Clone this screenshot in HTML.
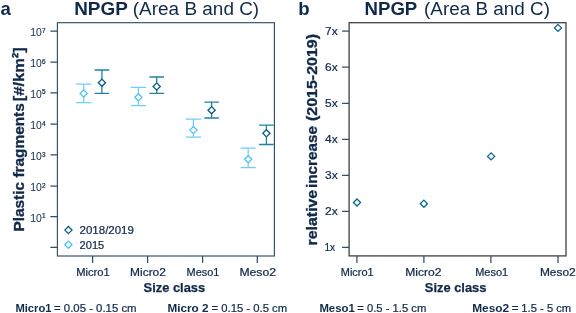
<!DOCTYPE html>
<html lang="en">
<head>
<meta charset="utf-8">
<title>NPGP (Area B and C)</title>
<style>
html,body{margin:0;padding:0;background:#fff;}
body{width:576px;height:313px;overflow:hidden;}
svg{display:block;will-change:transform;font-family:'Liberation Sans', Arial, sans-serif;fill:#10294a;}
.t{stroke:#10294a;stroke-width:0.22px;}
.b{stroke:#10294a;stroke-width:0.25px;}
.b2{stroke:#10294a;stroke-width:0.32px;}
</style>
</head>
<body>
<svg width="576" height="313" viewBox="0 0 576 313">
<rect width="576" height="313" fill="#fff"/>
<rect x="57.4" y="22.7" width="217.00" height="233.30" fill="none" stroke="#304e6a" stroke-width="1.15"/>
<path d="M50.40 31.1H57.4M50.40 62.1H57.4M50.40 92.8H57.4M50.40 124.0H57.4M50.40 154.9H57.4M50.40 186.0H57.4M50.40 216.7H57.4M50.40 247.4H57.4" stroke="#2f4e6a" stroke-width="1.25" fill="none"/>
<path d="M92.6 256.0V263.00M147.6 256.0V263.00M202.6 256.0V263.00M257.3 256.0V263.00" stroke="#2f4e6a" stroke-width="1.25" fill="none"/>
<text x="30.2" y="36.30" font-size="10.2" textLength="11.6" lengthAdjust="spacingAndGlyphs">10</text>
<text x="41.9" y="32.70" font-size="6.4" class="t">7</text>
<text x="30.2" y="67.30" font-size="10.2" textLength="11.6" lengthAdjust="spacingAndGlyphs">10</text>
<text x="41.9" y="63.70" font-size="6.4" class="t">6</text>
<text x="30.2" y="98.00" font-size="10.2" textLength="11.6" lengthAdjust="spacingAndGlyphs">10</text>
<text x="41.9" y="94.40" font-size="6.4" class="t">5</text>
<text x="30.2" y="129.20" font-size="10.2" textLength="11.6" lengthAdjust="spacingAndGlyphs">10</text>
<text x="41.9" y="125.60" font-size="6.4" class="t">4</text>
<text x="30.2" y="160.10" font-size="10.2" textLength="11.6" lengthAdjust="spacingAndGlyphs">10</text>
<text x="41.9" y="156.50" font-size="6.4" class="t">3</text>
<text x="30.2" y="191.20" font-size="10.2" textLength="11.6" lengthAdjust="spacingAndGlyphs">10</text>
<text x="41.9" y="187.60" font-size="6.4" class="t">2</text>
<text x="30.2" y="221.90" font-size="10.2" textLength="11.6" lengthAdjust="spacingAndGlyphs">10</text>
<text x="41.9" y="218.30" font-size="6.4" class="t">1</text>
<text x="93.0" y="276.1" font-size="10.5" font-weight="normal" text-anchor="middle" textLength="33.6" lengthAdjust="spacingAndGlyphs" class="t">Micro1</text>
<text x="148.0" y="276.1" font-size="10.5" font-weight="normal" text-anchor="middle" textLength="35.8" lengthAdjust="spacingAndGlyphs" class="t">Micro2</text>
<text x="203.0" y="276.1" font-size="10.5" font-weight="normal" text-anchor="middle" textLength="32.8" lengthAdjust="spacingAndGlyphs" class="t">Meso1</text>
<text x="257.7" y="276.1" font-size="10.5" font-weight="normal" text-anchor="middle" textLength="36.6" lengthAdjust="spacingAndGlyphs" class="t">Meso2</text>
<clipPath id="cl"><rect x="57.4" y="22.7" width="217.00" height="233.30"/></clipPath><g clip-path="url(#cl)">
<path d="M76.10 84.00H91.30M76.10 102.70H91.30M83.70 84.00V102.70" fill="none" stroke="#6ccffa" stroke-width="1.25"/>
<path d="M80.10 93.50L83.70 89.90L87.30 93.50L83.70 97.10Z" fill="#fff" stroke="#4cc2fa" stroke-width="1.3" stroke-linejoin="miter"/>
<path d="M130.80 87.40H146.00M130.80 105.60H146.00M138.40 87.40V105.60" fill="none" stroke="#6ccffa" stroke-width="1.25"/>
<path d="M134.80 97.30L138.40 93.70L142.00 97.30L138.40 100.90Z" fill="#fff" stroke="#4cc2fa" stroke-width="1.3" stroke-linejoin="miter"/>
<path d="M185.80 119.00H201.00M185.80 137.10H201.00M193.40 119.00V137.10" fill="none" stroke="#6ccffa" stroke-width="1.25"/>
<path d="M189.80 130.10L193.40 126.50L197.00 130.10L193.40 133.70Z" fill="#fff" stroke="#4cc2fa" stroke-width="1.3" stroke-linejoin="miter"/>
<path d="M240.60 148.00H255.80M240.60 167.60H255.80M248.20 148.00V167.60" fill="none" stroke="#6ccffa" stroke-width="1.25"/>
<path d="M244.60 159.30L248.20 155.70L251.80 159.30L248.20 162.90Z" fill="#fff" stroke="#4cc2fa" stroke-width="1.3" stroke-linejoin="miter"/>
<path d="M94.60 70.00H109.20M94.60 93.40H109.20M101.90 70.00V93.40" fill="none" stroke="#1f83a4" stroke-width="1.3"/>
<path d="M98.30 82.70L101.90 79.10L105.50 82.70L101.90 86.30Z" fill="#fff" stroke="#0a5c80" stroke-width="1.3" stroke-linejoin="miter"/>
<path d="M149.40 77.00H164.00M149.40 93.30H164.00M156.70 77.00V93.30" fill="none" stroke="#1f83a4" stroke-width="1.3"/>
<path d="M153.10 86.50L156.70 82.90L160.30 86.50L156.70 90.10Z" fill="#fff" stroke="#0a5c80" stroke-width="1.3" stroke-linejoin="miter"/>
<path d="M204.30 102.10H218.90M204.30 118.00H218.90M211.60 102.10V118.00" fill="none" stroke="#1f83a4" stroke-width="1.3"/>
<path d="M208.00 110.20L211.60 106.60L215.20 110.20L211.60 113.80Z" fill="#fff" stroke="#0a5c80" stroke-width="1.3" stroke-linejoin="miter"/>
<path d="M259.10 125.10H273.70M259.10 144.50H273.70M266.40 125.10V144.50" fill="none" stroke="#1f83a4" stroke-width="1.3"/>
<path d="M262.80 133.30L266.40 129.70L270.00 133.30L266.40 136.90Z" fill="#fff" stroke="#0a5c80" stroke-width="1.3" stroke-linejoin="miter"/>
</g>
<path d="M64.80 230.10L68.40 226.50L72.00 230.10L68.40 233.70Z" fill="#fff" stroke="#0a5c80" stroke-width="1.3" stroke-linejoin="miter"/>
<path d="M64.80 244.70L68.40 241.10L72.00 244.70L68.40 248.30Z" fill="#fff" stroke="#4cc2fa" stroke-width="1.3" stroke-linejoin="miter"/>
<text x="79.6" y="233.9" font-size="10.8" font-weight="normal" text-anchor="start" textLength="54.3" lengthAdjust="spacingAndGlyphs" class="t">2018/2019</text>
<text x="79.6" y="248.8" font-size="10.8" font-weight="normal" text-anchor="start" textLength="24.6" lengthAdjust="spacingAndGlyphs" class="t">2015</text>
<text x="74.2" y="14.7" font-size="18" font-weight="bold" text-anchor="start" textLength="53.6" lengthAdjust="spacingAndGlyphs">NPGP</text>
<text x="132.8" y="14.7" font-size="18" font-weight="normal" text-anchor="start" textLength="126.4" lengthAdjust="spacingAndGlyphs">(Area B and C)</text>
<text x="364.5" y="14.7" font-size="18" font-weight="bold" text-anchor="start" textLength="52.8" lengthAdjust="spacingAndGlyphs">NPGP</text>
<text x="424.0" y="14.7" font-size="18" font-weight="normal" text-anchor="start" textLength="126.0" lengthAdjust="spacingAndGlyphs">(Area B and C)</text>
<text x="0.5" y="15.0" font-size="18.6" font-weight="bold" text-anchor="start">a</text>
<text x="298.2" y="15.0" font-size="18.6" font-weight="bold" text-anchor="start">b</text>
<text x="143.6" y="292.2" font-size="12.1" font-weight="bold" text-anchor="start" textLength="61.6" lengthAdjust="spacingAndGlyphs" class="b">Size class</text>
<text x="424.8" y="292.1" font-size="12.1" font-weight="bold" text-anchor="start" textLength="61.6" lengthAdjust="spacingAndGlyphs" class="b">Size class</text>
<text transform="translate(23.7 231.6) rotate(-90)" font-size="15.2" font-weight="bold" class="b2" textLength="49.6" lengthAdjust="spacingAndGlyphs">Plastic</text>
<text transform="translate(23.7 177.6) rotate(-90)" font-size="15.2" font-weight="bold" class="b2" textLength="74.4" lengthAdjust="spacingAndGlyphs">fragments</text>
<text transform="translate(23.7 101.2) rotate(-90)" font-size="15.2" font-weight="bold" class="b2" textLength="54.0" lengthAdjust="spacingAndGlyphs">[#/km²]</text>
<text transform="translate(317.4 245.4) rotate(-90)" font-size="15.4" font-weight="bold" class="b2" textLength="55.6" lengthAdjust="spacingAndGlyphs">relative</text>
<text transform="translate(317.4 188.0) rotate(-90)" font-size="15.4" font-weight="bold" class="b2" textLength="62.0" lengthAdjust="spacingAndGlyphs">increase</text>
<text transform="translate(317.4 121.0) rotate(-90)" font-size="15.4" font-weight="bold" class="b2" textLength="87.0" lengthAdjust="spacingAndGlyphs">(2015-2019)</text>
<rect x="349.1" y="22.7" width="216.90" height="233.20" fill="none" stroke="#47484a" stroke-width="1.35"/>
<path d="M342.10 31.1H349.1M342.10 67.1H349.1M342.10 103.3H349.1M342.10 139.3H349.1M342.10 175.3H349.1M342.10 211.4H349.1M342.10 247.4H349.1" stroke="#2f4e6a" stroke-width="1.25" fill="none"/>
<path d="M356.9 255.9V262.90M423.9 255.9V262.90M490.9 255.9V262.90M558.0 255.9V262.90" stroke="#2f4e6a" stroke-width="1.25" fill="none"/>
<text x="325.0" y="34.9" font-size="11.8" font-weight="normal" text-anchor="start" textLength="12.6" lengthAdjust="spacingAndGlyphs" class="t">7x</text>
<text x="325.0" y="70.89999999999999" font-size="11.8" font-weight="normal" text-anchor="start" textLength="12.6" lengthAdjust="spacingAndGlyphs" class="t">6x</text>
<text x="325.0" y="107.1" font-size="11.8" font-weight="normal" text-anchor="start" textLength="12.6" lengthAdjust="spacingAndGlyphs" class="t">5x</text>
<text x="325.0" y="143.10000000000002" font-size="11.8" font-weight="normal" text-anchor="start" textLength="12.6" lengthAdjust="spacingAndGlyphs" class="t">4x</text>
<text x="325.0" y="179.10000000000002" font-size="11.8" font-weight="normal" text-anchor="start" textLength="12.6" lengthAdjust="spacingAndGlyphs" class="t">3x</text>
<text x="325.0" y="215.20000000000002" font-size="11.8" font-weight="normal" text-anchor="start" textLength="12.6" lengthAdjust="spacingAndGlyphs" class="t">2x</text>
<text x="324.4" y="251.20000000000002" font-size="11.8" font-weight="normal" text-anchor="start" textLength="10.6" lengthAdjust="spacingAndGlyphs" class="t">1x</text>
<text x="357.2" y="275.9" font-size="10.5" font-weight="normal" text-anchor="middle" textLength="32.8" lengthAdjust="spacingAndGlyphs" class="t">Micro1</text>
<text x="423.4" y="275.9" font-size="10.5" font-weight="normal" text-anchor="middle" textLength="36.2" lengthAdjust="spacingAndGlyphs" class="t">Micro2</text>
<text x="491.7" y="275.9" font-size="10.5" font-weight="normal" text-anchor="middle" textLength="33.0" lengthAdjust="spacingAndGlyphs" class="t">Meso1</text>
<text x="557.8" y="275.9" font-size="10.5" font-weight="normal" text-anchor="middle" textLength="35.8" lengthAdjust="spacingAndGlyphs" class="t">Meso2</text>
<path d="M353.45 202.50L357.00 198.95L360.55 202.50L357.00 206.05Z" fill="#fff" stroke="#0b6890" stroke-width="1.3" stroke-linejoin="miter"/>
<path d="M420.35 203.70L423.90 200.15L427.45 203.70L423.90 207.25Z" fill="#fff" stroke="#0b6890" stroke-width="1.3" stroke-linejoin="miter"/>
<path d="M487.55 156.40L491.10 152.85L494.65 156.40L491.10 159.95Z" fill="#fff" stroke="#0b6890" stroke-width="1.3" stroke-linejoin="miter"/>
<path d="M554.45 27.90L558.00 24.35L561.55 27.90L558.00 31.45Z" fill="#fff" stroke="#0b6890" stroke-width="1.3" stroke-linejoin="miter"/>
<text x="15.4" y="311.5" font-size="10.8" font-weight="bold" text-anchor="start" textLength="36.2" lengthAdjust="spacingAndGlyphs">Micro1</text>
<text x="54.0" y="311.5" font-size="10.8" font-weight="normal" text-anchor="start" textLength="82.6" lengthAdjust="spacingAndGlyphs" class="t">= 0.05 - 0.15 cm</text>
<text x="167.5" y="311.5" font-size="10.8" font-weight="bold" text-anchor="start" textLength="41.0" lengthAdjust="spacingAndGlyphs">Micro 2</text>
<text x="211.5" y="311.5" font-size="10.8" font-weight="normal" text-anchor="start" textLength="75.7" lengthAdjust="spacingAndGlyphs" class="t">= 0.15 - 0.5 cm</text>
<text x="319.4" y="311.5" font-size="10.8" font-weight="bold" text-anchor="start" textLength="35.4" lengthAdjust="spacingAndGlyphs">Meso1</text>
<text x="357.3" y="311.5" font-size="10.8" font-weight="normal" text-anchor="start" textLength="69.0" lengthAdjust="spacingAndGlyphs" class="t">= 0.5 - 1.5 cm</text>
<text x="472.2" y="311.5" font-size="10.8" font-weight="bold" text-anchor="start" textLength="37.0" lengthAdjust="spacingAndGlyphs">Meso2</text>
<text x="511.7" y="311.5" font-size="10.8" font-weight="normal" text-anchor="start" textLength="59.5" lengthAdjust="spacingAndGlyphs" class="t">= 1.5 - 5 cm</text>
</svg>
</body>
</html>
